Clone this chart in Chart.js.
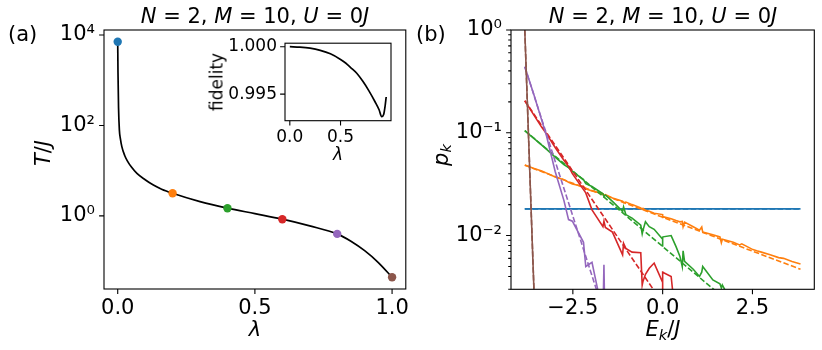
<!DOCTYPE html>
<html lang="en">
<head>
<meta charset="UTF-8">
<title>Temperature and level populations</title>
<script src="https://cdn.jsdelivr.net/npm/chart.js"></script>
<style>
  body { margin: 0; background: #fff; font-family: "DejaVu Sans", sans-serif; }
  #fig { position: relative; width: 822px; height: 350px; overflow: hidden; }
  canvas { position: absolute; }
  .lbl { position: absolute; font-size: 21px; line-height: 1; color: #000; white-space: nowrap; }
  .small { font-size: 17px; }
  .c { transform: translateX(-50%); }
  .r { transform: translate(-50%, -50%) rotate(-90deg); }
  sub { font-size: 70%; vertical-align: -0.25em; line-height: 0; }
</style>
</head>
<body>
<div id="fig">
  <canvas id="left" width="411" height="350" style="left:0;top:0"></canvas>
  <canvas id="right" width="411" height="350" style="left:411px;top:0"></canvas>
  <canvas id="inset" width="200" height="140" style="left:200px;top:30px"></canvas>

  <div class="lbl" style="left:8px;top:24px">(a)</div>
  <div class="lbl c" style="left:255px;top:6px"><i>N</i> = 2, <i>M</i> = 10, <i>U</i> = 0<i>J</i></div>
  <div class="lbl r" style="left:43px;top:153px"><i>T</i>/<i>J</i></div>
  <div class="lbl c" style="left:255px;top:319px"><i>λ</i></div>
  <div class="lbl small r" style="left:217px;top:82px">fidelity</div>
  <div class="lbl small c" style="left:338px;top:146px"><i>λ</i></div>

  <div class="lbl" style="left:416px;top:24px">(b)</div>
  <div class="lbl c" style="left:663px;top:6px"><i>N</i> = 2, <i>M</i> = 10, <i>U</i> = 0<i>J</i></div>
  <div class="lbl r" style="left:441px;top:155px"><i>p</i><sub><i>k</i></sub></div>
  <div class="lbl c" style="left:663px;top:319px"><i>E</i><sub><i>k</i></sub>/<i>J</i></div>
</div>

<script>
// ---- panel (a): effective temperature vs lambda ----
const lambdaCurve = [0, 0.001, 0.003, 0.006, 0.01, 0.015, 0.025, 0.035, 0.05, 0.07, 0.1, 0.13, 0.16, 0.2,
  0.3, 0.4, 0.5, 0.6, 0.7, 0.8, 0.85, 0.9, 0.95, 1.0];
const tempCurve = [7100, 1500, 250, 80, 50, 34, 22, 16.5, 12, 8.7, 6.3, 4.8, 3.9, 3.17,
  2.07, 1.48, 1.12, 0.845, 0.6, 0.40, 0.275, 0.17, 0.093, 0.044];
const lambdaDots = [0, 0.2, 0.4, 0.6, 0.8, 1.0];
const tempDots = [7100, 3.17, 1.48, 0.845, 0.40, 0.044];
const dotColors = ['#1f77b4', '#ff7f0e', '#2ca02c', '#d62728', '#9467bd', '#8c564b'];

// inset: fidelity vs lambda
const lambdaInset = [0, 0.1, 0.2, 0.3, 0.4, 0.5, 0.55, 0.6, 0.66, 0.72, 0.78, 0.84, 0.88, 0.905, 0.925, 0.94, 0.95];
const fidelityInset = [1.0, 0.99996, 0.99985, 0.99962, 0.99925, 0.99866, 0.99828, 0.9978, 0.9972, 0.99635, 0.99535, 0.9942, 0.99335, 0.99262, 0.99285, 0.9938, 0.9947];

// ---- panel (b): populations of the 55 levels ----
const energyLevels = [-3.838, -3.6015, -3.365, -3.2287, -2.9922, -2.7498, -2.6194, -2.5133, -2.2036, -2.1406,
  -1.9671, -1.6617, -1.6344, -1.5944, -1.3979, -1.1155, -1.0882, -1.0251, -0.8517, -0.6093,
  -0.5693, -0.5462, -0.4789, -0.3728, -0.2365, 0, 0, 0, 0, 0,
  0.2365, 0.3728, 0.4789, 0.5462, 0.5693, 0.6093, 0.8517, 1.0251, 1.0882, 1.1155,
  1.3979, 1.5944, 1.6344, 1.6617, 1.9671, 2.1406, 2.2036, 2.5133, 2.6194, 2.7498,
  2.9922, 3.2287, 3.365, 3.6015, 3.838];

const pOrange = [0.0486, 0.0452, 0.0425, 0.0405, 0.0372, 0.035, 0.033, 0.0318, 0.03, 0.0285,
  0.0272, 0.0255, 0.0246, 0.025, 0.0232, 0.0216, 0.0209, 0.0212, 0.02, 0.0186,
  0.018, 0.0184, 0.0176, 0.0172, 0.0165, 0.016, 0.015, 0.0157, 0.0147, 0.0153,
  0.0146, 0.014, 0.0136, 0.0137, 0.0122, 0.0135, 0.0122, 0.0113, 0.0121, 0.0108,
  0.0102, 0.0097, 0.0085, 0.0092, 0.0086, 0.0081, 0.0083, 0.0073, 0.0071, 0.0069,
  0.0065, 0.0061, 0.006, 0.0056, 0.0053];
const pGreen = [0.105, 0.089, 0.076, 0.069, 0.058, 0.049, 0.046, 0.042, 0.035, 0.032,
  0.03, 0.0255, 0.024, 0.0248, 0.0215, 0.0172, 0.019, 0.016, 0.0148, 0.0126,
  0.0104, 0.0113, 0.0136, 0.0122, 0.0115, 0.0092, 0.0078, 0.0098, 0.0082, 0.0097,
  0.01, 0.0078, 0.0063, 0.005, 0.0071, 0.0056, 0.0047, 0.004, 0.0044, 0.005,
  0.0037, 0.0034, 0.0031, 0.0033, 0.0021];
const pRed = [0.205, 0.152, 0.113, 0.097, 0.072, 0.054, 0.047, 0.04, 0.028, 0.026,
  0.0178, 0.0122, 0.0138, 0.012, 0.0108, 0.0065, 0.0084, 0.0075, 0.0069, 0.0068,
  0.0033, 0.0036, 0.0042, 0.0048, 0.0054, 0.0035, 0.0022, 0.0045, 0.003, 0.0044,
  0.004, 0.0014];
const pPurple = [0.44, 0.245, 0.132, 0.092, 0.042, 0.022, 0.0143, 0.0138, 0.0086, 0.005,
  0.0055, 0.0017, 0.0052, 0.0007];
const pBrown = [0.993, 0.0045, 0.00002];

const uniformE = [-3.838, 3.838];
const uniformP = [0.0182, 0.0182];
const gibbsOrangeE = [-3.838, 3.838];
const gibbsOrangeP = [0.0484, 0.0047];
const gibbsGreenE = [-3.838, 1.9671];
const gibbsGreenP = [0.105, 0.00207];
const gibbsRedE = [-3.838, 0];
const gibbsRedP = [0.205, 0.0022];
const gibbsPurpleE = [-3.838, -1.5944];
const gibbsPurpleP = [0.44, 0.0016];

// ticks
const leftXTicks = [0, 0.5, 1];
const leftYTicks = [1, 100, 10000];
const insetXTicks = [0, 0.5];
const insetYTicks = [0.995, 1.0];
const rightXTicks = [-2.5, 0, 2.5];
const rightYTicks = [0.01, 0.1, 1];
const rightYMinor = [0.003, 0.004, 0.005, 0.006, 0.007, 0.008, 0.009,
  0.02, 0.03, 0.04, 0.05, 0.06, 0.07, 0.08, 0.09,
  0.2, 0.3, 0.4, 0.5, 0.6, 0.7, 0.8, 0.9];

Chart.defaults.font.family = '"DejaVu Sans", sans-serif';
Chart.defaults.color = '#000';

const pts = (xs, ys) => ys.map((y, i) => ({ x: xs[i], y: y }));

const sup = { '-': '⁻', '0': '⁰', '1': '¹', '2': '²', '3': '³', '4': '⁴' };
const pow10 = v => '10' + String(Math.round(Math.log10(v))).split('').map(c => sup[c]).join('');
const minusFmt = d => v => (v < 0 ? '−' : '') + Math.abs(v).toFixed(d);

// box round the axes plus tick marks drawn outward
const frame = {
  id: 'frame',
  beforeDatasetsDraw(chart, args, opts) {
    if (!opts.fill) return;
    const a = chart.chartArea;
    chart.ctx.save();
    chart.ctx.fillStyle = '#fff';
    chart.ctx.fillRect(a.left, a.top, a.width, a.height);
    chart.ctx.restore();
  },
  afterDatasetsDraw(chart) {
    const { ctx, chartArea: a, scales } = chart;
    ctx.save();
    ctx.strokeStyle = '#000';
    ctx.lineWidth = 1.1;
    ctx.strokeRect(a.left, a.top, a.width, a.height);
    ctx.beginPath();
    scales.x.ticks.forEach(t => {
      const px = scales.x.getPixelForValue(t.value);
      ctx.moveTo(px, a.bottom);
      ctx.lineTo(px, a.bottom + (t.minor ? 2.8 : 4.9));
    });
    scales.y.ticks.forEach(t => {
      const py = scales.y.getPixelForValue(t.value);
      ctx.moveTo(a.left, py);
      ctx.lineTo(a.left - (t.minor ? 2.8 : 4.9), py);
    });
    ctx.stroke();
    ctx.restore();
  }
};

function axis(opts) {
  const minor = opts.minor || [];
  return {
    type: opts.type,
    min: opts.min,
    max: opts.max,
    grid: { display: true, drawOnChartArea: false, drawTicks: true, tickLength: 5, tickColor: 'rgba(0,0,0,0)' },
    border: { display: false },
    afterBuildTicks: s => {
      s.ticks = opts.ticks.map(v => ({ value: v }))
        .concat(minor.map(v => ({ value: v, minor: true })))
        .sort((p, q) => p.value - q.value);
    },
    afterFit: s => {
      if (opts.width) s.width = opts.width;
      if (opts.height) s.height = opts.height;
    },
    ticks: {
      autoSkip: false,
      maxRotation: 0,
      padding: opts.pad,
      font: { size: opts.size },
      callback: (v, i, ticks) => (ticks[i] && ticks[i].minor) ? '' : opts.fmt(v)
    }
  };
}

function baseOptions(padding, x, y, fill) {
  return {
    responsive: false,
    animation: false,
    events: [],
    layout: { padding: padding },
    plugins: { legend: { display: false }, tooltip: { enabled: false }, frame: { fill: fill } },
    elements: { point: { radius: 0 } },
    scales: { x: x, y: y }
  };
}

// panel (a)
new Chart(document.getElementById('left'), {
  type: 'line',
  plugins: [frame],
  data: {
    datasets: [{
      data: pts(lambdaDots, tempDots),
      showLine: false,
      pointRadius: 4.2,
      pointBackgroundColor: dotColors,
      pointBorderWidth: 0
    }, {
      data: pts(lambdaCurve, tempCurve),
      borderColor: '#000',
      borderWidth: 1.7,
      cubicInterpolationMode: 'monotone'
    }]
  },
  options: baseOptions({ left: 0, right: 5, top: 30, bottom: 0 },
    axis({ type: 'linear', min: -0.05, max: 1.05, ticks: leftXTicks, fmt: v => v.toFixed(1), size: 21, pad: 2, height: 61 }),
    axis({ type: 'logarithmic', min: 0.02415, max: 12912, ticks: leftYTicks, fmt: pow10, size: 21, pad: 4, width: 104 }),
    false)
});

// inset
new Chart(document.getElementById('inset'), {
  type: 'line',
  plugins: [frame],
  data: {
    datasets: [{
      data: pts(lambdaInset, fidelityInset),
      borderColor: '#000',
      borderWidth: 1.7,
      cubicInterpolationMode: 'monotone'
    }]
  },
  options: baseOptions({ left: 0, right: 9, top: 12.7, bottom: 0 },
    axis({ type: 'linear', min: -0.0475, max: 0.9975, ticks: insetXTicks, fmt: v => v.toFixed(1), size: 17, pad: 2, height: 49.3 }),
    axis({ type: 'linear', min: 0.9922, max: 1.00037, ticks: insetYTicks, fmt: v => v.toFixed(3), size: 17, pad: 3, width: 85 }),
    true)
});

// panel (b): solid = measured populations, dashed = Gibbs
const seriesB = [
  [pts(uniformE, uniformP), dotColors[0], false],
  [pts(uniformE, uniformP), dotColors[0], true],
  [pts(energyLevels, pOrange), dotColors[1], false],
  [pts(gibbsOrangeE, gibbsOrangeP), dotColors[1], true],
  [pts(energyLevels, pGreen), dotColors[2], false],
  [pts(gibbsGreenE, gibbsGreenP), dotColors[2], true],
  [pts(energyLevels, pRed), dotColors[3], false],
  [pts(gibbsRedE, gibbsRedP), dotColors[3], true],
  [pts(energyLevels, pPurple), dotColors[4], false],
  [pts(gibbsPurpleE, gibbsPurpleP), dotColors[4], true],
  [pts(energyLevels, pBrown), dotColors[5], false],
  [pts(energyLevels, pBrown), dotColors[5], true]
];

new Chart(document.getElementById('right'), {
  type: 'line',
  plugins: [frame],
  data: {
    datasets: seriesB.map((s, i) => ({
      data: s[0],
      borderColor: s[1],
      borderWidth: 1.6,
      borderDash: s[2] ? [5.5, 2.4] : [],
      tension: 0,
      order: 100 - i
    }))
  },
  options: baseOptions({ left: 0, right: 7.7, top: 30, bottom: 0 },
    axis({ type: 'linear', min: -4.222, max: 4.222, ticks: rightXTicks, fmt: minusFmt(1), size: 21, pad: 2, height: 60.7 }),
    axis({ type: 'logarithmic', min: 0.003, max: 1, ticks: rightYTicks, minor: rightYMinor, fmt: pow10, size: 21, pad: 4, width: 100 }),
    false)
});
</script>
</body>
</html>
